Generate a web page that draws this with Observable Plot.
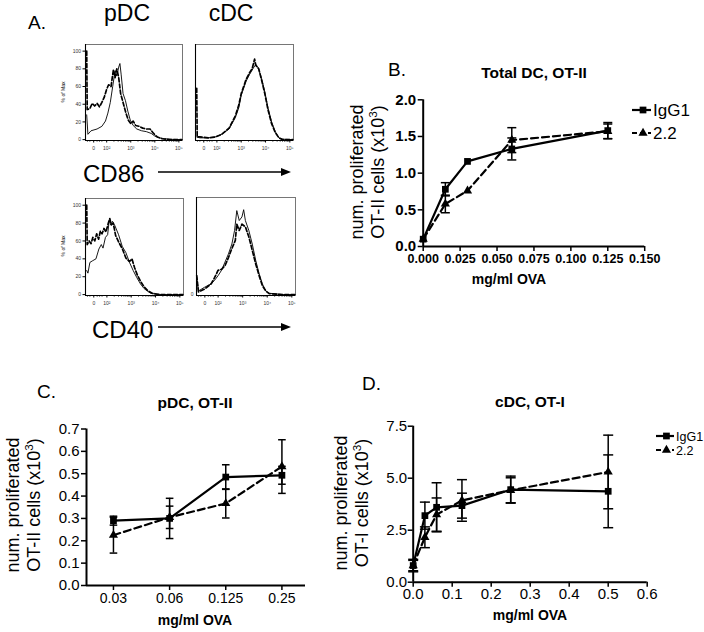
<!DOCTYPE html>
<html><head><meta charset="utf-8">
<script src="https://cdn.jsdelivr.net/npm/d3@7"></script>
<script src="https://cdn.jsdelivr.net/npm/@observablehq/plot@0.6"></script>
<style>
body{margin:0;background:#fff;font-family:"Liberation Sans",Arial,sans-serif;}
#root{position:relative;width:704px;height:632px;overflow:hidden;background:#fff}
#root > svg{position:absolute}
</style></head><body><div id="root"></div>
<script>
// ---------------- data ----------------
const seriesNames = ["IgG1", "2.2"];

// Panel B: Total DC, OT-II
const bDose = [0, 0.015, 0.03, 0.06, 0.125];
const bIgG1 = [0.10, 0.78, 1.16, 1.33, 1.58];
const bIgG1Err = [0, 0.09, 0, 0.15, 0.11];
const b22 = [0.10, 0.58, 0.76, 1.45, 1.57];
const b22Err = [0, 0.12, 0, 0.17, 0.10];
const bXTicks = [0, 0.025, 0.05, 0.075, 0.1, 0.125, 0.15];
const bYTicks = [0, 0.5, 1.0, 1.5, 2.0];

// Panel C: pDC, OT-II
const cDose = ["0.03", "0.06", "0.125", "0.25"];
const cIgG1 = [0.29, 0.30, 0.485, 0.493];
const cIgG1Err = [0.02, 0.09, 0.055, 0.04];
const c22 = [0.225, 0.305, 0.367, 0.532];
const c22Err = [0.08, 0.05, 0.065, 0.12];
const cYTicks = [0, 0.1, 0.2, 0.3, 0.4, 0.5, 0.6, 0.7];

// Panel D: cDC, OT-I
const dDose = [0, 0.03, 0.06, 0.125, 0.25, 0.5];
const dIgG1 = [0.8, 3.2, 3.6, 3.68, 4.45, 4.37];
const dIgG1Err = [0.25, 0.65, 1.18, 0.6, 0.65, 1.75];
const d22 = [0.8, 2.16, 3.25, 3.93, 4.42, 5.3];
const d22Err = [0.3, 0.5, 0.8, 1.0, 0.6, 1.77];
const dXTicks = [0, 0.1, 0.2, 0.3, 0.4, 0.5, 0.6];
const dYTicks = [0, 2.5, 5.0, 7.5];

// Panel A: flow histograms, x in decades (biexponential display), y in % of Max
const histXTicks = [1.46, 2, 3, 4, 5];
const histXLabels = ["0", "10\u00B2", "10\u00B3", "10\u2074", "10\u2075"];
const histYTicks = [0, 20, 40, 60, 80, 100];
const pdcCD86Solid = [[1.17,28],[1.22,6],[1.35,10],[1.6,12],[1.8,15],[1.95,21],[2.05,30],[2.15,42],[2.25,60],[2.35,78],[2.42,72],[2.5,82],[2.55,86],[2.6,74],[2.68,52],[2.78,44],[2.88,32],[2.98,22],[3.1,16],[3.25,12],[3.45,10],[3.65,9],[3.85,7],[4.0,4],[4.2,2],[4.4,1],[4.7,0.3],[5.12,0]];
const pdcCD86Dashed = [[1.17,100],[1.19,34],[1.3,35],[1.4,41],[1.5,38],[1.6,41],[1.7,37],[1.8,42],[1.9,48],[2.0,57],[2.08,62],[2.18,60],[2.28,79],[2.35,70],[2.42,80],[2.5,70],[2.58,52],[2.7,40],[2.8,30],[2.9,22],[3.0,18],[3.1,21],[3.2,16],[3.35,15],[3.5,13],[3.65,12],[3.8,12],[3.95,7],[4.1,3],[4.3,1],[4.6,0],[5.12,0]];
const cdcCD86Solid = [[1.17,3],[1.3,2],[1.65,2],[1.93,3],[2.2,6],[2.5,12],[2.76,25],[2.9,36],[3.0,50],[3.2,66],[3.35,74],[3.5,81],[3.6,85],[3.7,81],[3.83,70],[3.97,54],[4.1,36],[4.25,20],[4.4,9],[4.55,2],[4.7,0.5],[5.12,0]];
const cdcCD86Dashed = [[1.17,58],[1.19,3],[1.3,3],[1.65,2],[1.93,3],[2.2,6],[2.5,13],[2.76,27],[2.9,39],[3.0,52],[3.2,68],[3.35,76],[3.45,80],[3.55,91],[3.6,84],[3.72,80],[3.85,66],[3.97,52],[4.1,34],[4.25,18],[4.4,8],[4.55,2],[4.7,0],[5.12,0]];
const pdcCD40Solid = [[1.17,27],[1.22,24],[1.3,36],[1.42,38],[1.55,40],[1.67,51],[1.77,56],[1.84,52],[1.94,64],[2.03,67],[2.1,84],[2.16,78],[2.23,82],[2.33,77],[2.48,67],[2.63,54],[2.78,47],[2.93,36],[3.08,27],[3.23,19],[3.38,12],[3.52,7],[3.66,4],[3.8,1.5],[4.1,0],[5.12,0]];
const pdcCD40Dashed = [[1.17,100],[1.19,56],[1.27,60],[1.35,57],[1.42,64],[1.5,60],[1.58,68],[1.66,62],[1.73,71],[1.8,68],[1.88,74],[1.96,70],[2.06,80],[2.12,85],[2.18,78],[2.26,80],[2.36,66],[2.5,58],[2.64,51],[2.78,41],[2.93,37],[3.03,40],[3.14,30],[3.25,22],[3.4,14],[3.55,8],[3.7,4],[3.86,1.5],[4.2,0],[5.12,0]];
const cdcCD40Solid = [[1.13,19],[1.2,4],[1.44,8],[1.72,12],[1.86,16],[2.0,21],[2.14,27],[2.28,36],[2.42,45],[2.56,56],[2.67,71],[2.76,93],[2.86,82],[2.97,86],[3.04,94],[3.11,82],[3.25,71],[3.39,56],[3.53,38],[3.67,23],[3.8,12],[3.94,4],[4.08,1.5],[4.64,0],[5.12,0]];
const cdcCD40Dashed = [[1.13,21],[1.2,3],[1.44,6],[1.72,12],[1.86,19],[2.0,27],[2.14,28],[2.28,32],[2.42,41],[2.56,51],[2.7,60],[2.76,78],[2.86,71],[2.97,78],[3.11,75],[3.25,64],[3.39,49],[3.53,34],[3.67,21],[3.8,10],[3.94,4],[4.08,1],[4.64,0],[5.12,0]];

// ---------------- helpers ----------------
const FONT = "Liberation Sans, Arial, Helvetica, sans-serif";
const root = document.getElementById("root");
const cap = {draw(ctx, size){ const w = Math.sqrt(size / Math.PI); ctx.moveTo(-w, 0); ctx.lineTo(w, 0); }};
const seriesStyle = {
  "IgG1": {symbol: "square", r: 3.8, dash: null},
  "2.2": {symbol: "triangle", r: 3.4, dash: "7,4"}
};

function rows(xs, ys, es, name){
  return xs.map((x, i) => ({x, y: ys[i], e: es[i], s: name}));
}
function place(svg, left, top){
  svg.style.left = left + "px"; svg.style.top = top + "px";
  root.appendChild(svg);
}
function seriesMarks(data, capR){
  const marks = [];
  for (const name of seriesNames){
    const d = data.filter(r => r.s === name);
    const st = seriesStyle[name];
    const withErr = d.filter(r => r.e > 0);
    marks.push(Plot.ruleX(withErr, {x: "x", y1: r => r.y - r.e, y2: r => r.y + r.e, stroke: "black", strokeWidth: 1.5}));
    marks.push(Plot.dot(withErr.flatMap(r => [{x: r.x, y: r.y - r.e}, {x: r.x, y: r.y + r.e}]),
      {x: "x", y: "y", symbol: cap, r: capR, fill: "none", stroke: "black", strokeWidth: 1.5}));
    marks.push(Plot.line(d, {x: "x", y: "y", stroke: "black", strokeWidth: 2.2, strokeDasharray: st.dash}));
    marks.push(Plot.dot(d, {x: "x", y: "y", symbol: st.symbol, r: st.r, fill: "black", stroke: "none"}));
  }
  return marks;
}

// ---------------- Panel B ----------------
{
  const data = [...rows(bDose, bIgG1, bIgG1Err, "IgG1"), ...rows(bDose, b22, b22Err, "2.2")];
  const svg = Plot.plot({
    width: 374, height: 270, marginLeft: 92.7, marginRight: 59.8, marginTop: 59.3, marginBottom: 64,
    style: {background: "transparent", fontFamily: FONT, overflow: "visible"},
    x: {domain: [0, 0.15]}, y: {domain: [0, 2]},
    marks: [
      Plot.axisX({ticks: bXTicks, tickFormat: d3.format(".3f"), tickSize: 5, tickPadding: 3, strokeWidth: 1.5, fontSize: 12.5, fontWeight: "bold", fill: "black", label: null}),
      Plot.axisY({ticks: bYTicks, tickFormat: d3.format(".1f"), tickSize: 5, tickPadding: 2, strokeWidth: 1.5, fontSize: 15, fontWeight: "bold", fill: "black", label: null}),
      Plot.ruleX([0], {stroke: "black", strokeWidth: 2}),
      Plot.ruleY([0], {stroke: "black", strokeWidth: 2}),
      ...seriesMarks(data, 4.5)
    ]
  });
  place(svg, 330, 40);
}

// ---------------- Panel C ----------------
{
  const idx = cDose.map((d, i) => i);
  const xDom = [-0.48, 3.42];
  const data = [...rows(idx, cIgG1, cIgG1Err, "IgG1"), ...rows(idx, c22, c22Err, "2.2")];
  const svg = Plot.plot({
    width: 340, height: 272, marginLeft: 86, marginRight: 35, marginTop: 68.5, marginBottom: 47,
    style: {background: "transparent", fontFamily: FONT, overflow: "visible"},
    x: {domain: xDom}, y: {domain: [0, 0.7]},
    marks: [
      Plot.axisX({ticks: idx, tickFormat: i => cDose[i], tickSize: 5, tickPadding: 3, strokeWidth: 1.5, fontSize: 14, fill: "black", label: null}),
      Plot.axisY({ticks: cYTicks, tickFormat: d3.format(".1f"), tickSize: 5, tickPadding: 2, strokeWidth: 1.5, fontSize: 15, fill: "black", label: null}),
      Plot.ruleX([xDom[0]], {stroke: "black", strokeWidth: 2}),
      Plot.ruleY([0], {stroke: "black", strokeWidth: 2}),
      ...seriesMarks(data, 3.8)
    ]
  });
  place(svg, 0, 360);
}

// ---------------- Panel D ----------------
{
  const data = [...rows(dDose, dIgG1, dIgG1Err, "IgG1"), ...rows(dDose, d22, d22Err, "2.2")];
  const svg = Plot.plot({
    width: 364, height: 272, marginLeft: 72.7, marginRight: 57.3, marginTop: 65.7, marginBottom: 50.3,
    style: {background: "transparent", fontFamily: FONT, overflow: "visible"},
    x: {domain: [0, 0.6]}, y: {domain: [0, 7.5]},
    marks: [
      Plot.axisX({ticks: dXTicks, tickFormat: d3.format(".1f"), tickSize: 5, tickPadding: 1, strokeWidth: 1.5, fontSize: 15, fill: "black", label: null}),
      Plot.axisY({ticks: dYTicks, tickFormat: d3.format(".1f"), tickSize: 5, tickPadding: 1, strokeWidth: 1.5, fontSize: 15, fill: "black", label: null}),
      Plot.ruleX([0], {stroke: "black", strokeWidth: 2}),
      Plot.ruleY([0], {stroke: "black", strokeWidth: 2}),
      ...seriesMarks(data, 5)
    ]
  });
  place(svg, 340, 360);
}

// ---------------- Panel A histograms ----------------
const minorTicks = [];
for (let dec = 2; dec <= 4; dec++) for (let k = 2; k <= 9; k++) minorTicks.push(dec + Math.log10(k));
const linMinor = [1.2, 1.3, 1.6, 1.7, 1.8];
function hist(left, top, boxW, boxH, solid, dashed, yLabels, zeroOnly){
  const ml = 30, mr = 6, mt = 4, mb = 18;
  const xDom = [1.12, 5.15], yDom = [-1, 107.5];
  const marks = [
    Plot.frame({stroke: "#555", strokeWidth: 0.8}),
    Plot.line(solid, {x: d => d[0], y: d => d[1], stroke: "black", strokeWidth: 0.9}),
    Plot.line(dashed, {x: d => d[0], y: d => d[1], stroke: "black", strokeWidth: 1.7, strokeDasharray: "4,2.2"}),
    Plot.ruleX([xDom[0]], {stroke: "black", strokeWidth: 1.1}),
    Plot.ruleY([yDom[0]], {stroke: "black", strokeWidth: 1.1}),
    Plot.axisX({ticks: histXTicks, tickFormat: d => histXLabels[histXTicks.indexOf(d)], tickSize: 2.5, tickPadding: 3, fontSize: 5, fill: "#333", label: null}),
    Plot.axisX({ticks: [...minorTicks, ...linMinor], tickSize: 1.5, tickFormat: () => "", label: null})
  ];
  if (yLabels) marks.push(Plot.axisY({ticks: histYTicks, tickSize: 2.5, tickPadding: 2, fontSize: 5, fill: "#333", label: null}));
  if (zeroOnly) marks.push(Plot.axisY({ticks: [0], tickSize: 0, tickPadding: 3, fontSize: 5, fill: "#333", label: null}));
  const svg = Plot.plot({
    width: boxW + ml + mr, height: boxH + mt + mb, marginLeft: ml, marginRight: mr, marginTop: mt, marginBottom: mb,
    style: {background: "transparent", fontFamily: FONT, overflow: "visible"},
    x: {domain: xDom}, y: {domain: yDom, axis: (yLabels || zeroOnly) ? undefined : null},
    marks
  });
  place(svg, left - ml, top - mt);
}
hist(85, 44, 97, 96, pdcCD86Solid, pdcCD86Dashed, true, false);
hist(195, 44, 98, 96, cdcCD86Solid, cdcCD86Dashed, false, false);
hist(85, 198, 98, 97, pdcCD40Solid, pdcCD40Dashed, true, false);
hist(196, 197, 99, 98, cdcCD40Solid, cdcCD40Dashed, false, true);

// ---------------- overlay text ----------------
const NS = "http://www.w3.org/2000/svg";
const ov = document.createElementNS(NS, "svg");
ov.setAttribute("width", 704); ov.setAttribute("height", 632);
ov.style.left = "0px"; ov.style.top = "0px"; ov.style.pointerEvents = "none";
ov.setAttribute("font-family", FONT);
root.appendChild(ov);
function el(tag, attrs, parent = ov){
  const e = document.createElementNS(NS, tag);
  for (const k in attrs) e.setAttribute(k, attrs[k]);
  parent.appendChild(e); return e;
}
function txt(x, y, s, size, opts = {}){
  const t = el("text", {x, y, "font-size": size, fill: "black", "text-anchor": opts.anchor || "start", "font-weight": opts.bold ? "bold" : "normal", ...(opts.transform ? {transform: opts.transform} : {})});
  t.textContent = s; return t;
}
function ylab(cx, cy, l1, l2, size){
  txt(0, 0, l1, size, {anchor: "middle", transform: `translate(${cx},${cy}) rotate(-90)`});
  const t = el("text", {x: 0, y: 0, "font-size": size, "text-anchor": "middle", transform: `translate(${cx + 21},${cy}) rotate(-90)`});
  const a = el("tspan", {}, t); a.textContent = l2;
  const b = el("tspan", {dy: -7, "font-size": size * 0.65}, t); b.textContent = "3";
  const c = el("tspan", {dy: 7}, t); c.textContent = ")";
}
function arrow(x1, x2, y){
  el("line", {x1, y1: y, x2: x2 - 8, y2: y, stroke: "black", "stroke-width": 1.3});
  el("path", {d: `M${x2},${y} L${x2 - 10},${y - 4} L${x2 - 10},${y + 4} Z`, fill: "black"});
}
function legend(x, y0, dy, size, segW){
  seriesNames.forEach((name, i) => {
    const y = y0 + i * dy, st = seriesStyle[name];
    el("line", {x1: x, y1: y, x2: x + segW, y2: y, stroke: "black", "stroke-width": 2.2, ...(st.dash ? {"stroke-dasharray": "5,3"} : {})});
    const sym = d3.symbol(st.symbol === "square" ? d3.symbolSquare : d3.symbolTriangle, st.r * st.r * Math.PI)();
    el("path", {d: sym, transform: `translate(${x + segW * 0.58},${y})`, fill: "black"});
    txt(x + segW + 2, y + size * 0.36, name, size);
  });
}

// Panel A text
txt(28, 29, "A.", 19);
txt(127, 21, "pDC", 23, {anchor: "middle"});
txt(231, 21, "cDC", 23, {anchor: "middle"});
txt(83, 182, "CD86", 24);
arrow(158, 291, 172);
txt(92, 338, "CD40", 24);
arrow(158, 291, 327);
txt(0, 0, "% of Max", 5, {anchor: "middle", transform: "translate(65,92) rotate(-90)"});
txt(0, 0, "% of Max", 5, {anchor: "middle", transform: "translate(65,246) rotate(-90)"});

// Panel B text
txt(388, 76, "B.", 19);
txt(534, 78, "Total DC, OT-II", 15.5, {anchor: "middle", bold: true});
txt(509, 284, "mg/ml OVA", 14, {anchor: "middle", bold: true});
ylab(363, 172, "num. proliferated", "OT-II cells (x10", 18);
legend(632, 110, 23, 17, 19);

// Panel C text
txt(37, 398, "C.", 19);
txt(195, 408, "pDC, OT-II", 15.5, {anchor: "middle", bold: true});
txt(195, 625, "mg/ml OVA", 14, {anchor: "middle", bold: true});
ylab(19, 505, "num. proliferated", "OT-II cells (x10", 18);

// Panel D text
txt(362, 390, "D.", 19);
txt(530, 407, "cDC, OT-I", 15.5, {anchor: "middle", bold: true});
txt(530, 620, "mg/ml OVA", 14, {anchor: "middle", bold: true});
ylab(347, 503, "num. proliferated", "OT-I cells (x10", 18);
legend(656, 436, 14, 12.5, 18);
</script></body></html>
